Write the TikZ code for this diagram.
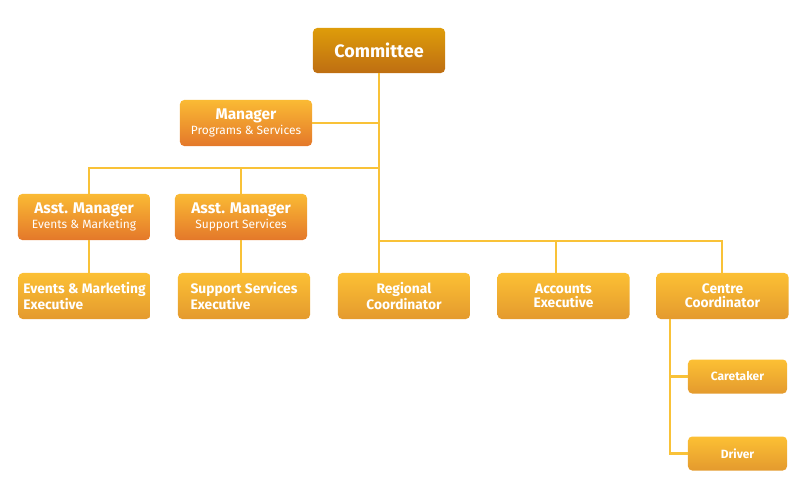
\documentclass[tikz,border=0pt]{standalone}
\usepackage{fontspec}
\setmainfont{Fira Sans}
\usepackage{tikz}
\usetikzlibrary{positioning, calc}
\definecolor{CommTop}{RGB}{222,156,10}
\definecolor{CommBot}{RGB}{190,110,18}
\definecolor{MgrTop}{RGB}{250,186,52}
\definecolor{MgrBot}{RGB}{228,120,42}
\definecolor{StaffTop}{RGB}{252,192,52}
\definecolor{StaffBot}{RGB}{228,154,46}
\definecolor{LineGold}{RGB}{249,194,56}
\newcommand{\boxtitle}[1]{{\fontsize{11}{12.5}\selectfont\bfseries #1}}
\newcommand{\boxsub}[1]{{\fontsize{8.5}{9.5}\selectfont #1}}
\tikzset{
  obox/.style={rounded corners=3pt, text=white, inner sep=2pt, align=center},
  commbox/.style={obox, top color=CommTop, bottom color=CommBot,
    minimum width=3.3cm, minimum height=1.125cm, font=\fontsize{12.8}{14}\selectfont\bfseries},
  mgrbox/.style={obox, top color=MgrTop, bottom color=MgrBot,
    minimum width=3.3cm, minimum height=1.15cm},
  staffbox/.style={obox, top color=StaffTop, bottom color=StaffBot,
    minimum width=3.3cm, minimum height=1.15cm, font=\fontsize{9.8}{9.8}\selectfont\bfseries},
  smallbox/.style={staffbox, minimum width=2.475cm, minimum height=0.85cm,
    font=\fontsize{8.5}{9}\selectfont\bfseries},
  link/.style={draw=LineGold, line width=1.5pt},
}

\begin{document}
\begin{tikzpicture}[x=0.025cm, y=-0.025cm]
  \useasboundingbox (0,0) rectangle (800,500);
  % top levels
  \node[commbox] (comm) at (379,50.5) {Committee};
  \node[mgrbox] (mgr) at (246,123) {\boxtitle{Manager}\\[-1pt]\boxsub{Programs \& Services}};
  \node[mgrbox] (am1) at (84,217) {\boxtitle{Asst. Manager}\\[-1pt]\boxsub{Events \& Marketing}};
  \node[mgrbox] (am2) at (241,217) {\boxtitle{Asst. Manager}\\[-1pt]\boxsub{Support Services}};
  % staff row
  \node[staffbox, align=left] (eme) at (84.5,296) {Events \& Marketing\\Executive};
  \node[staffbox, align=left] (sse) at (244,296) {Support Services\\Executive};
  \node[staffbox] (reg) at (404,296) {Regional\\Coordinator};
  \node[staffbox] (acc) at (563.5,296) {Accounts\\Executive};
  \node[staffbox] (cc) at (722.5,296) {Centre\\Coordinator};
  \node[smallbox] (care) at (737.5,376.5) {Caretaker};
  \node[smallbox] (drv) at (737.5,453.5) {Driver};
  % connectors
  \coordinate (trunkA) at (379,168);
  \coordinate (trunkB) at (379,241);
  \coordinate (aL) at (89,168);
  \coordinate (aAcc) at (556,241);
  \coordinate (trunkR) at (722,241);
  \coordinate (cDown) at (670,319);
  \draw[link] (comm.south) -- (trunkB);
  \draw[link] (mgr.east) -- (mgr.east -| comm.south);
  \draw[link] (trunkA) -- (aL) -- (aL |- am1.north);
  \draw[link] (am2.north |- trunkA) -- (am2.north);
  \draw[link] (aL |- am1.south) -- (aL |- eme.north);
  \draw[link] (am2.south) -- (am2.south |- sse.north);
  \draw[link] (trunkB) -- (trunkB |- reg.north);
  \draw[link] (trunkB) -- (trunkR) -- (trunkR |- cc.north);
  \draw[link] (aAcc) -- (aAcc |- acc.north);
  \draw[link] (cDown) -- (cDown |- drv.west) -- (drv.west);
  \draw[link] (cDown |- care.west) -- (care.west);
\end{tikzpicture}
\end{document}
